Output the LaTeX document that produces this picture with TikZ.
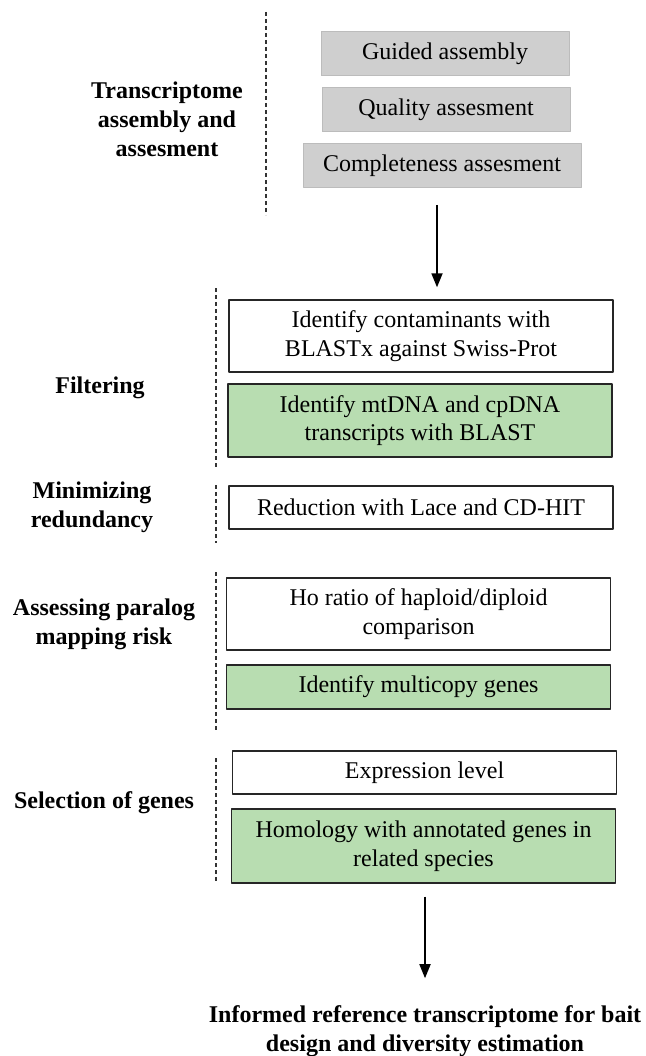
\documentclass[tikz,border=0pt]{standalone}
\usepackage{fontspec}
\setmainfont{Liberation Serif}
\usetikzlibrary{arrows.meta}

\begin{document}
\begin{tikzpicture}[
  x=1pt, y=-1pt, % one unit = one pixel, y runs downward
  font=\fontsize{24}{28.5}\selectfont,
  line join=round,
  asmbox/.style={fill=asmgrey, draw=asmedge, line width=1pt, minimum height=44pt, inner sep=0pt},
  stepbox/.style={draw=black!85, line width=1.4pt, minimum width=384pt, inner sep=0pt, align=center},
  keep/.style={fill=keepgreen},
  phase/.style={font=\fontsize{24}{29}\selectfont\bfseries, align=center, inner sep=0pt},
  divider/.style={black!80, line width=1.5pt, dash pattern=on 4pt off 3pt},
  flow/.style={-{Triangle[length=14pt,width=11pt]}, line width=1.8pt}
]
  % ---- colours ----
  \definecolor{asmgrey}{RGB}{207,207,207}
  \definecolor{asmedge}{RGB}{188,188,188}
  \definecolor{keepgreen}{RGB}{184,221,177}

  % ---- page size ----
  \useasboundingbox (0,0) rectangle (645,1056);

  % ---- assembly boxes (grey) ----
  \node[asmbox, minimum width=248pt] (guided) at (445,54) {Guided assembly};
  \node[asmbox, minimum width=248pt] (quality) at (446,110) {Quality assesment};
  \node[asmbox, minimum width=278pt] (complete) at (442,165.5) {Completeness assesment};

  % ---- pipeline boxes ----
  \node[stepbox, minimum height=72pt] (contam) at (421,336) {Identify contaminants with\\BLASTx against Swiss-Prot};
  \node[stepbox, keep, minimum height=73pt] (mtdna) at (420,420.5) {Identify mtDNA and cpDNA\\transcripts with BLAST};
  \node[stepbox, minimum height=43pt] (reduce) at (421,507.5) {Reduction with Lace and CD-HIT};
  \node[stepbox, minimum height=72pt] (horatio) at (418.5,614) {Ho ratio of haploid/diploid\\comparison};
  \node[stepbox, keep, minimum height=44pt] (multicopy) at (418.5,687) {Identify multicopy genes};
  \node[stepbox, minimum height=43pt] (express) at (424.5,772.5) {Expression level};
  \node[stepbox, keep, minimum height=74pt] (homology) at (423.5,846) {Homology with annotated genes in\\related species};

  % ---- phase labels (left column) ----
  \node[phase] (lbl-asm) at (167,119) {Transcriptome\\assembly and\\assesment};
  \node[phase] (lbl-filter) at (100,388) {Filtering};
  \node[phase] (lbl-redund) at (92,507.5) {Minimizing\\redundancy};
  \node[phase] (lbl-paralog) at (104,624) {Assessing paralog\\mapping risk};
  \node[phase] (lbl-select) at (104,803) {Selection of genes};

  % ---- result ----
  \node[phase] (final) at (425,1031) {Informed reference transcriptome for bait\\design and diversity estimation};

  % ---- dashed separators ----
  \draw[divider] (266,12) -- (266,215);
  \foreach \ya/\yb in {288/467, 485/543, 572/730, 758/882} {
    \draw[divider] (216,\ya) -- (216,\yb);
  }

  % ---- arrows ----
  \coordinate (a1) at (437,0);
  \coordinate (a2) at (425,0);
  \draw[flow, shorten <=17pt, shorten >=12pt] (a1 |- complete.south) -- (a1 |- contam.north);
  \draw[flow, shorten <=13pt, shorten >=27pt] (a2 |- homology.south) -- (a2 |- final.north);

\end{tikzpicture}
\end{document}
